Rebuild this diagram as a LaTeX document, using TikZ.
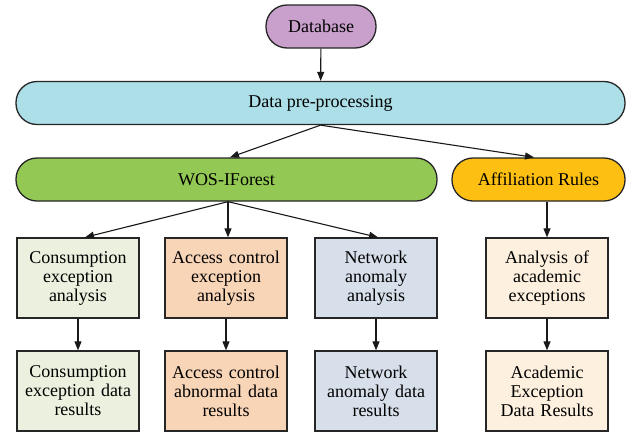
\documentclass[tikz,border=0pt]{standalone}
\usepackage{fontspec}
\setmainfont{Liberation Serif}
\usetikzlibrary{arrows.meta}
\definecolor{cdb}{HTML}{C9A0CC}
\definecolor{cdpp}{HTML}{ADDFE8}
\definecolor{cwos}{HTML}{92C853}
\definecolor{caff}{HTML}{FCBF12}
\definecolor{cb1}{HTML}{EBF1DE}
\definecolor{cb2}{HTML}{F9D5B8}
\definecolor{cb3}{HTML}{D6DFEA}
\definecolor{cb4}{HTML}{FDF0DE}
\tikzset{
  pill/.style={draw=black!85, line width=1.3pt, rounded corners=21pt, minimum height=43pt, inner sep=0pt,
    font=\fontsize{18}{19}\selectfont},
  boxn/.style={draw=black!85, line width=1.3pt, minimum width=122pt, minimum height=80pt, inner sep=0pt,
    align=center, text width=118pt, font=\fontsize{18}{19}\selectfont},
  arr/.style={-{Triangle[length=9pt,width=7pt]}, line width=1.1pt, draw=black!90}
}
\begin{document}
\begin{tikzpicture}[x=1pt,y=-1pt]
\useasboundingbox (0,0) rectangle (631,434);
\node[pill, fill=cdb, minimum width=110pt] (db) at (321,26.5) {Database};
\node[pill, fill=cdpp, minimum width=609pt] (dpp) at (320.5,103) {Data pre-processing};
\node[pill, fill=cwos, minimum width=421pt] (wos) at (226.5,179.5) {WOS-IForest};
\node[pill, fill=caff, minimum width=173pt] (aff) at (538.5,179.5) {Affiliation Rules};
\node[boxn, fill=cb1] (b1) at (78,278) {Consumption\\exception\\analysis};
\node[boxn, fill=cb2] (b2) at (226,278) {Access control\\exception\\analysis};
\node[boxn, fill=cb3] (b3) at (376,278) {Network\\anomaly\\analysis};
\node[boxn, fill=cb4] (b4) at (547,278) {Analysis of\\academic\\exceptions};
\node[boxn, fill=cb1] (r1) at (78,391) {Consumption\\exception data\\results};
\node[boxn, fill=cb2] (r2) at (226,391) {Access control\\abnormal data\\results};
\node[boxn, fill=cb3] (r3) at (376,391) {Network\\anomaly data\\results};
\node[boxn, fill=cb4] (r4) at (547,391) {Academic\\Exception\\Data Results};
\draw[arr] (db) -- (dpp);
\draw[arr] (dpp.south) -- (wos.north -| 230,0);
\draw[arr] (dpp.south) -- (aff.north -| 534,0);
\draw[arr] (wos.south -| 228,0) -- (b1.north -| 85,0);
\draw[arr] (wos.south -| 228,0) -- (b2.north -| 228,0);
\draw[arr] (wos.south -| 228,0) -- (b3.north -| 378,0);
\draw[arr] (aff.south -| 547,0) -- (b4);
\draw[arr] (b1) -- (r1);
\draw[arr] (b2) -- (r2);
\draw[arr] (b3) -- (r3);
\draw[arr] (b4) -- (r4);
\end{tikzpicture}
\end{document}
